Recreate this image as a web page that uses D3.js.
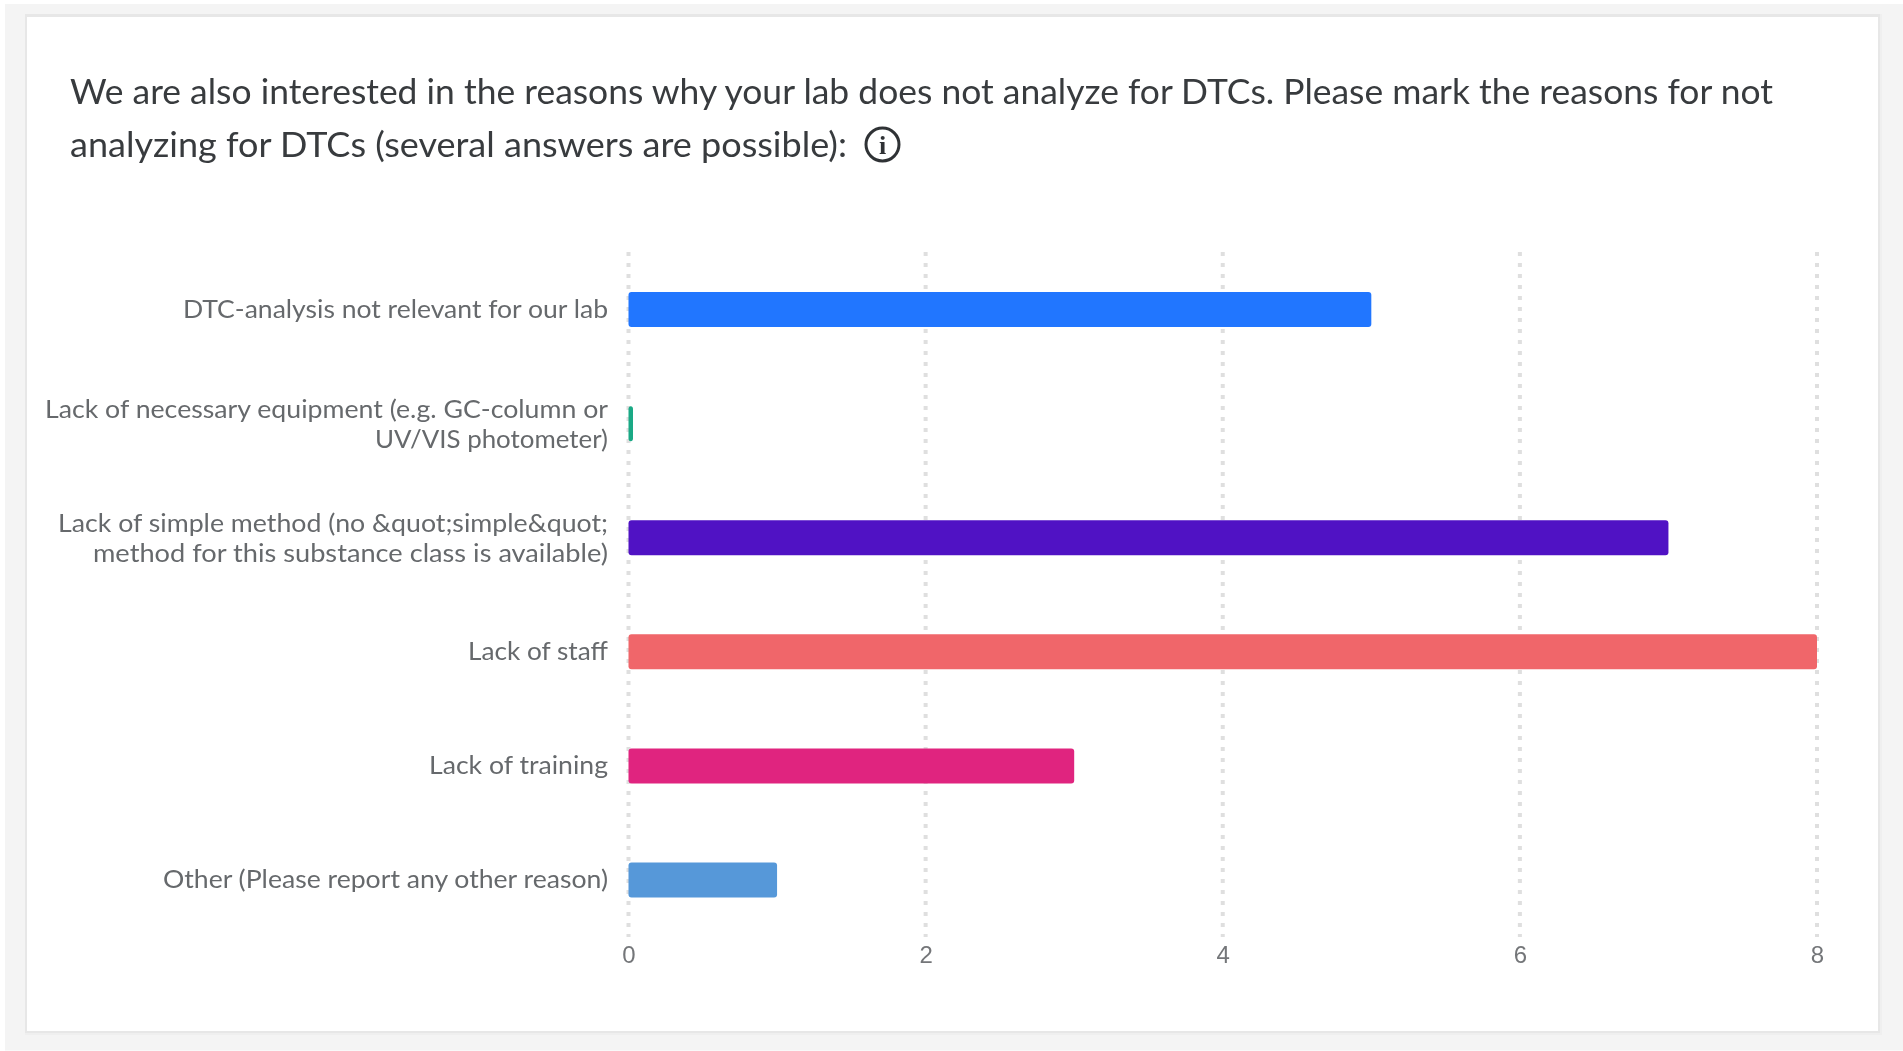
<!DOCTYPE html>
<html>
<head>
<meta charset="utf-8">
<script src="https://cdn.jsdelivr.net/npm/d3@7"></script>
<style>
html,body{margin:0;padding:0;background:#fff;overflow:hidden}
svg{display:block;filter:blur(0.45px)}
text{font-family:"Lato","Noto Sans",sans-serif}
</style>
</head>
<body>
<svg id="chart" width="1903" height="1051"></svg>
<script>
const titleLines = [
  "We are also interested in the reasons why your lab does not analyze for DTCs. Please mark the reasons for not",
  "analyzing for DTCs (several answers are possible):"
];
const categories = [
  ["DTC-analysis not relevant for our lab"],
  ["Lack of necessary equipment (e.g. GC-column or", "UV/VIS photometer)"],
  ["Lack of simple method (no &quot;simple&quot;", "method for this substance class is available)"],
  ["Lack of staff"],
  ["Lack of training"],
  ["Other (Please report any other reason)"]
];
const values = [5, 0, 7, 8, 3, 1];
const barColors = ["#2176ff", "#1aa985", "#5012c4", "#f0666a", "#e0247f", "#5698d9"];
const xTicks = [0, 2, 4, 6, 8];

// layout: rendered line widths, so the substitute font fills the same extent
const titleWidths = [1703, 777];
const labelWidths = [[425], [563, 233], [550, 515], [140], [179], [445]];

const svg = d3.select("#chart");
const x = d3.scaleLinear().domain([0, 8]).range([628.5, 1817]);
const y = d3.scaleBand().domain(d3.range(categories.length)).range([252.5, 937]).paddingInner(0).paddingOuter(0);

// page + card
svg.append("rect").attr("x", 5).attr("y", 4).attr("width", 1898).attr("height", 1046.5).attr("fill", "#f4f4f4");
svg.append("rect").attr("x", 25).attr("y", 14).attr("width", 1857).attr("height", 1021).attr("fill", "#efefef");
svg.append("rect").attr("x", 25).attr("y", 14).attr("width", 1855).attr("height", 1019).attr("fill", "#e7e7e7");
svg.append("rect").attr("x", 27).attr("y", 17).attr("width", 1851).attr("height", 1014).attr("fill", "#fff");

// title
svg.append("g").selectAll("text").data(titleLines).join("text")
  .attr("x", 70).attr("y", (d, i) => 104 + i * 53)
  .attr("font-size", 35).attr("fill", "#383b3e")
  .attr("textLength", (d, i) => titleWidths[i]).attr("lengthAdjust", "spacingAndGlyphs")
  .text(d => d);

// info icon
const info = svg.append("g").attr("transform", "translate(882.5,144.5)");
info.append("circle").attr("r", 16.5).attr("fill", "none").attr("stroke", "#2f3235").attr("stroke-width", 3);
info.append("text").attr("text-anchor", "middle").attr("y", 9.5).attr("font-size", 26).attr("font-weight", 700)
  .style("font-family", "'Liberation Serif',serif").attr("fill", "#2f3235").text("i");

// grid
svg.append("g").selectAll("line").data(xTicks).join("line")
  .attr("x1", d => x(d)).attr("x2", d => x(d)).attr("y1", 252).attr("y2", 937)
  .attr("stroke", "#dfdfdf").attr("stroke-width", 4).attr("stroke-dasharray", "4 7");

// x axis
const axis = svg.append("g").attr("transform", "translate(0,937)")
  .call(d3.axisBottom(x).tickValues(xTicks).tickSize(0).tickPadding(9).tickFormat(d3.format("d")));
axis.select(".domain").remove();
axis.selectAll("text").attr("font-size", 24).attr("fill", "#747679")
  .style("font-family", "'Liberation Sans',sans-serif");

// bars
const barH = 35;
svg.append("g").selectAll("rect").data(values).join("rect")
  .attr("x", x(0))
  .attr("y", (d, i) => y(i) + y.bandwidth() / 2 - barH / 2)
  .attr("width", d => Math.max(x(d) - x(0), 4.5))
  .attr("height", barH).attr("rx", 3)
  .attr("fill", (d, i) => barColors[i]);

// category labels
const rows = svg.append("g").selectAll("g").data(categories).join("g")
  .attr("transform", (d, i) => `translate(608,${y(i) + y.bandwidth() / 2})`);
rows.each(function (lines, r) {
  d3.select(this).selectAll("text").data(lines).join("text")
    .attr("text-anchor", "end")
    .attr("y", (d, i) => (lines.length === 1 ? 8.5 : -5.7 + i * 30))
    .attr("font-size", 25).attr("fill", "#66696c")
    .attr("textLength", (d, i) => labelWidths[r][i]).attr("lengthAdjust", "spacingAndGlyphs")
    .text(d => d);
});
</script>
</body>
</html>
